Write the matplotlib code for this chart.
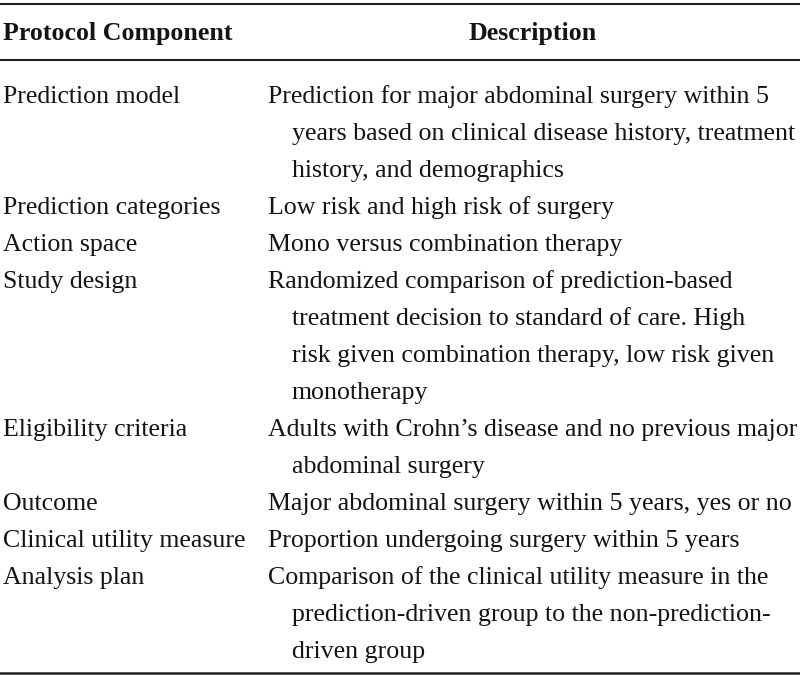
import matplotlib
matplotlib.use("Agg")
import matplotlib.pyplot as plt

header = ["Protocol Component", "Description"]
components = [
    "Prediction model",
    "Prediction categories",
    "Action space",
    "Study design",
    "Eligibility criteria",
    "Outcome",
    "Clinical utility measure",
    "Analysis plan",
]
descriptions = [
    ["Prediction for major abdominal surgery within 5",
     "years based on clinical disease history, treatment",
     "history, and demographics"],
    ["Low risk and high risk of surgery"],
    ["Mono versus combination therapy"],
    ["Randomized comparison of prediction-based",
     "treatment decision to standard of care. High",
     "risk given combination therapy, low risk given",
     "monotherapy"],
    ["Adults with Crohn\u2019s disease and no previous major",
     "abdominal surgery"],
    ["Major abdominal surgery within 5 years, yes or no"],
    ["Proportion undergoing surgery within 5 years"],
    ["Comparison of the clinical utility measure in the",
     "prediction-driven group to the non-prediction-",
     "driven group"],
]

W, H = 800, 675
fig = plt.figure(figsize=(W / 100, H / 100), dpi=100)
ax = fig.add_axes([0, 0, 1, 1])
ax.set_xlim(0, W)
ax.set_ylim(H, 0)
ax.axis("off")

font = "Liberation Serif"
fs = 18.6
line_h = 37.0
col = "#141414"

# rules
ax.plot([0, W], [4, 4], color="#222222", lw=1.5)
ax.plot([0, W], [60, 60], color="#222222", lw=1.5)
ax.plot([0, W], [673, 673], color="#222222", lw=1.8)

# header
ax.text(3, 40, header[0], fontfamily=font, fontweight="bold", fontsize=fs,
        va="baseline", ha="left", color=col)
ax.text(533, 40, header[1], fontfamily=font, fontweight="bold", fontsize=fs,
        va="baseline", ha="center", color=col)

y = 103
for comp, desc in zip(components, descriptions):
    ax.text(3, y, comp, fontfamily=font, fontsize=fs, va="baseline", ha="left",
            color=col)
    for i, line in enumerate(desc):
        x = 268 if i == 0 else 292
        ax.text(x, y + i * line_h, line, fontfamily=font, fontsize=fs,
                va="baseline", ha="left", color=col)
    y += len(desc) * line_h

fig.savefig("out.png", dpi=100)
